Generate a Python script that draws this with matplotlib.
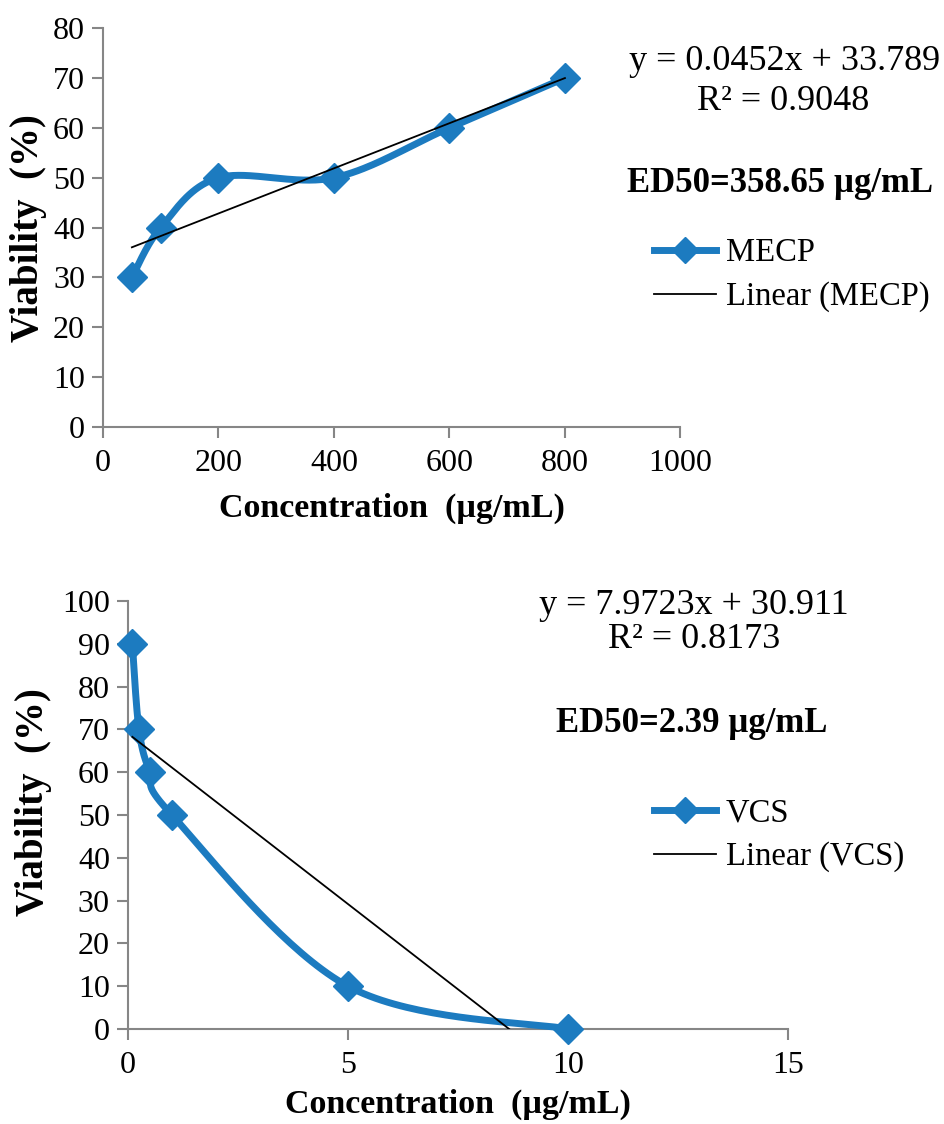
import numpy as np
import matplotlib
matplotlib.use("Agg")
import matplotlib.pyplot as plt
from matplotlib.lines import Line2D

# data
mecp_conc = [50, 100, 200, 400, 600, 800]
mecp_viab = [30, 40, 50, 50, 60, 70]
vcs_conc = [0.1, 0.25, 0.5, 1, 5, 10]
vcs_viab = [90, 70, 60, 50, 10, 0]

mecp_eq = ["y = 0.0452x + 33.789", "R² = 0.9048", "ED50=358.65 µg/mL"]
vcs_eq = ["y = 7.9723x + 30.911", "R² = 0.8173", "ED50=2.39 µg/mL"]

blue = "#1c7bc0"
gray = "#868686"

plt.rcParams['font.family'] = ['Liberation Serif', 'DejaVu Serif']


def smooth(ax, xs, ys, n=40):
    # excel-like smoothed line (catmull-rom in screen space)
    pts = ax.transData.transform(np.column_stack([xs, ys]))
    p = np.vstack([pts[0], pts, pts[-1]])
    out = []
    for i in range(1, len(p) - 2):
        p0, p1, p2, p3 = p[i - 1], p[i], p[i + 1], p[i + 2]
        c1 = p1 + (p2 - p0) / 6
        c2 = p2 - (p3 - p1) / 6
        t = np.linspace(0, 1, n)[:, None]
        seg = (1 - t) ** 3 * p1 + 3 * (1 - t) ** 2 * t * c1 + 3 * (1 - t) * t ** 2 * c2 + t ** 3 * p2
        out.append(seg)
    out = np.vstack(out)
    d = ax.transData.inverted().transform(out)
    return d[:, 0], d[:, 1]


def style_axes(ax):
    for s in ['top', 'right']:
        ax.spines[s].set_visible(False)
    for s in ['left', 'bottom']:
        ax.spines[s].set_color(gray)
        ax.spines[s].set_linewidth(1.5)
    ax.tick_params(direction='out', length=8, width=1.5, color=gray, labelsize=23)
    ax.tick_params(axis='x', pad=8)
    ax.tick_params(axis='y', pad=5)


def panel(ax, x, y, xlim, xticks, ylim, yticks, clip_zero):
    ax.set_xlim(*xlim)
    ax.set_ylim(*ylim)
    ax.set_xticks(xticks)
    ax.set_yticks(yticks)
    style_axes(ax)
    fig.canvas.draw()
    sx, sy = smooth(ax, x, y)
    ax.plot(sx, sy, color=blue, lw=5, solid_capstyle='round', zorder=3, clip_on=False)
    ax.plot(x, y, 'D', color=blue, ms=15, zorder=4, clip_on=False)
    k, b = np.polyfit(x, y, 1)
    x0, x1 = min(x), max(x)
    if clip_zero and k < 0:
        x1 = min(x1, -b / k)
    ax.plot([x0, x1], [k * x0 + b, k * x1 + b], color='black', lw=1.3, zorder=5)
    ax.set_xlabel("Concentration  (µg/mL)", fontsize=24.5, fontweight='bold')
    ax.set_ylabel("Viability  (%)", fontsize=28, fontweight='bold')
    handles = [Line2D([], [], color=blue, lw=5, marker='D', ms=13),
               Line2D([], [], color='black', lw=1.3)]
    return handles


fig = plt.figure(figsize=(9.45, 11.24), dpi=100)
ax1 = fig.add_axes([0.109, 0.620, 0.611, 0.355])
ax2 = fig.add_axes([0.1354, 0.0845, 0.6986, 0.3808])

h1 = panel(ax1, mecp_conc, mecp_viab, (0, 1000), range(0, 1001, 200), (0, 80), range(0, 81, 10), False)
h2 = panel(ax2, vcs_conc, vcs_viab, (0, 15), [0, 5, 10, 15], (0, 100), range(0, 101, 10), True)

ax1.xaxis.set_label_coords(0.5, -0.165)
ax1.yaxis.set_label_coords(-0.097, 0.5)
ax2.xaxis.set_label_coords(0.5, -0.14)
ax2.yaxis.set_label_coords(-0.115, 0.53)

# trendline text boxes
fig.text(785 / 945, 1 - 62 / 1124, mecp_eq[0], fontsize=26, ha='center', va='center')
fig.text(783 / 945, 1 - 102 / 1124, mecp_eq[1], fontsize=26, ha='center', va='center')
fig.text(780 / 945, 1 - 183 / 1124, mecp_eq[2], fontsize=25, fontweight='bold', ha='center', va='center')
fig.text(694 / 945, 1 - 605 / 1124, vcs_eq[0], fontsize=26, ha='center', va='center')
fig.text(694 / 945, 1 - 640 / 1124, vcs_eq[1], fontsize=26, ha='center', va='center')
fig.text(692 / 945, 1 - 723 / 1124, vcs_eq[2], fontsize=25, fontweight='bold', ha='center', va='center')

ax1.legend(h1, ["MECP", "Linear (MECP)"], loc='center left', bbox_to_anchor=(654 / 945, 1 - 275 / 1124),
           bbox_transform=fig.transFigure, frameon=False, fontsize=23.5, handlelength=1.9,
           handletextpad=0.3, labelspacing=0.4, borderpad=0, borderaxespad=0)
ax2.legend(h2, ["VCS", "Linear (VCS)"], loc='center left', bbox_to_anchor=(654 / 945, 1 - 835 / 1124),
           bbox_transform=fig.transFigure, frameon=False, fontsize=23.5, handlelength=1.9,
           handletextpad=0.3, labelspacing=0.4, borderpad=0, borderaxespad=0)

fig.savefig("out.png", dpi=100)
